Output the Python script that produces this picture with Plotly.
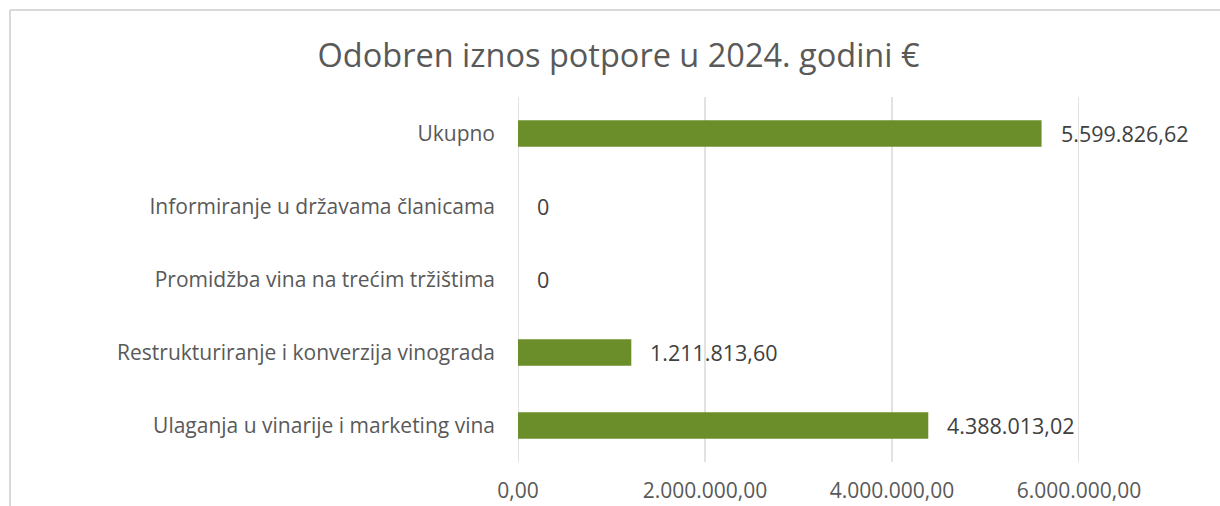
import plotly.graph_objects as go

# Podaci (odozdo prema gore, kao u izvorniku)
kategorije = [
    "Ulaganja u vinarije i marketing vina",
    "Restrukturiranje i konverzija vinograda",
    "Promidžba vina na trećim tržištima",
    "Informiranje u državama članicama",
    "Ukupno",
]
iznosi = [4388013.02, 1211813.60, 0, 0, 5599826.62]
oznake = ["4.388.013,02", "1.211.813,60", "0", "0", "5.599.826,62"]

tick_vals = [0, 2000000, 4000000, 6000000]
tick_text = ["0,00", "2.000.000,00", "4.000.000,00", "6.000.000,00"]

FONT = "Open Sans"
GREEN = "#6B8E2B"
GRAY = "#595959"
GRID = "#D9D9D9"

fig = go.Figure()

# Mrežne linije (plotly skriva one na rubovima raspona, pa ih crtamo sami)
for tv in tick_vals:
    fig.add_shape(type="line", xref="x", yref="paper",
                  x0=tv, x1=tv, y0=0, y1=1, layer="below",
                  line=dict(color=GRID, width=1.5))

fig.add_trace(
    go.Bar(
        x=iznosi,
        y=kategorije,
        orientation="h",
        marker=dict(color=GREEN, line=dict(width=0)),
        hoverinfo="x+y",
    )
)

# Oznake podataka desno od stupaca
for val, cat, txt in zip(iznosi, kategorije, oznake):
    fig.add_annotation(
        x=val, y=cat, text=txt, showarrow=False,
        xanchor="left", xshift=17,
        font=dict(family=FONT, size=21.5, color="#404040"),
    )

# Okvir grafikona (lijevo i gore)
fig.add_shape(type="line", xref="paper", yref="paper",
              x0=-0.9055, x1=-0.9055, y0=-0.3, y1=1.2384,
              line=dict(color=GRID, width=2))
fig.add_shape(type="line", xref="paper", yref="paper",
              x0=-0.9055, x1=1.3, y0=1.2384, y1=1.2384,
              line=dict(color=GRID, width=2))

fig.update_layout(
    width=1220,
    height=506,
    margin=dict(l=518, r=141, t=97, b=44),
    paper_bgcolor="white",
    plot_bgcolor="white",
    bargap=0.64,
    showlegend=False,
    title=dict(
        text="Odobren iznos potpore u 2024. godini €",
        x=0.507, xanchor="center", y=0.891, yanchor="middle",
        font=dict(family=FONT, size=32.5, color=GRAY),
    ),
    xaxis=dict(
        range=[0, 6000000],
        tickvals=tick_vals,
        ticktext=tick_text,
        showgrid=False,
        zeroline=False,
        showline=False,
        ticks="",
        ticklabelstandoff=14,
        automargin=False,
        tickfont=dict(family=FONT, size=21, color=GRAY),
        fixedrange=True,
    ),
    yaxis=dict(
        showgrid=False,
        showline=False,
        ticks="",
        ticklabelstandoff=22,
        automargin=False,
        tickfont=dict(family=FONT, size=21, color=GRAY),
        fixedrange=True,
    ),
)

# bez margine tijela stranice, da slika stane točno u prozor
fig.write_html(
    "out.html",
    config={"displayModeBar": False},
    post_script="document.body.style.margin='0';"
                "document.body.style.overflow='hidden';",
)
